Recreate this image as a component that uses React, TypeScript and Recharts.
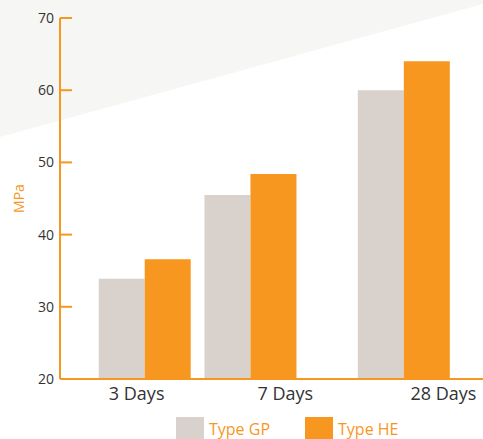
import { Bar, BarChart, XAxis, YAxis } from "recharts";

const FONT = "'Open Sans', sans-serif";
const ORANGE = "#f7971f";
const STONE = "#d9d1cb";
const TEXT = "#333333";

// categories and where each group / label sits on the (unevenly spaced) x axis
const categories = ["3 Days", "7 Days", "28 Days"];
const groupSlots = [1.6, 3.6, 6.5];
const labelSlots = [1.45, 4.26, 7.25];

// compressive strength, MPa
const typeGP = [33.9, 45.5, 60];
const typeHE = [36.6, 48.4, 64];

const yTicks = [20, 30, 40, 50, 60, 70];
const seriesNames = ["Type GP", "Type HE"];
const seriesColors = [STONE, ORANGE];

const data = categories.map((name, i) => ({
  name,
  slot: groupSlots[i],
  gp: typeGP[i],
  he: typeHE[i],
}));

const labelFor = (v: number) => {
  const i = labelSlots.indexOf(v);
  return i >= 0 ? categories[i] : "";
};

export default function App() {
  return (
    <div style={{ position: "absolute", left: 0, top: 0, width: 483, height: 439, fontFamily: FONT, overflow: "hidden" }}>
      {/* pale wedge behind the chart */}
      <div
        style={{
          position: "absolute",
          inset: 0,
          background: "#f6f6f4",
          clipPath: "polygon(0 0, 483px 0, 483px 4px, 0 137px)",
        }}
      />
      <div style={{ position: "absolute", left: 0, top: 0 }}>
        <BarChart width={483} height={439} data={data} margin={{ top: 18, right: 0, bottom: 30, left: 0 }} barGap={0}>
          <XAxis
            type="number"
            dataKey="slot"
            domain={[0, 8]}
            ticks={labelSlots}
            interval={0}
            tickFormatter={labelFor}
            height={30}
            tickLine={false}
            tickSize={0}
            tickMargin={8}
            axisLine={{ stroke: ORANGE, strokeWidth: 2 }}
            tick={{ fill: TEXT, fontSize: 18, fontFamily: FONT }}
          />
          <YAxis
            type="number"
            domain={[20, 70]}
            ticks={yTicks}
            interval={0}
            width={60}
            tickSize={-12}
            tickMargin={18}
            axisLine={{ stroke: ORANGE, strokeWidth: 2 }}
            tickLine={{ stroke: ORANGE, strokeWidth: 2 }}
            tick={{ fill: TEXT, fontSize: 14, fontFamily: FONT }}
            label={{
              value: "MPa",
              angle: -90,
              position: "insideLeft",
              offset: 19,
              fill: ORANGE,
              style: { textAnchor: "middle", fontSize: 14, fontFamily: FONT, fill: ORANGE },
            }}
          />
          <Bar dataKey="gp" name={seriesNames[0]} fill={STONE} barSize={46} isAnimationActive={false} />
          <Bar dataKey="he" name={seriesNames[1]} fill={ORANGE} barSize={46} isAnimationActive={false} />
        </BarChart>
      </div>
      <div style={{ position: "absolute", left: 176, top: 417, display: "flex" }}>
        {seriesNames.map((n, i) => (
          <div key={n} style={{ display: "flex", alignItems: "flex-start", marginRight: 35 }}>
            <div style={{ width: 28, height: 28, background: seriesColors[i] }} />
            <span style={{ color: ORANGE, fontSize: 16, lineHeight: "16px", marginTop: 4, marginLeft: 5 }}>{n}</span>
          </div>
        ))}
      </div>
    </div>
  );
}
